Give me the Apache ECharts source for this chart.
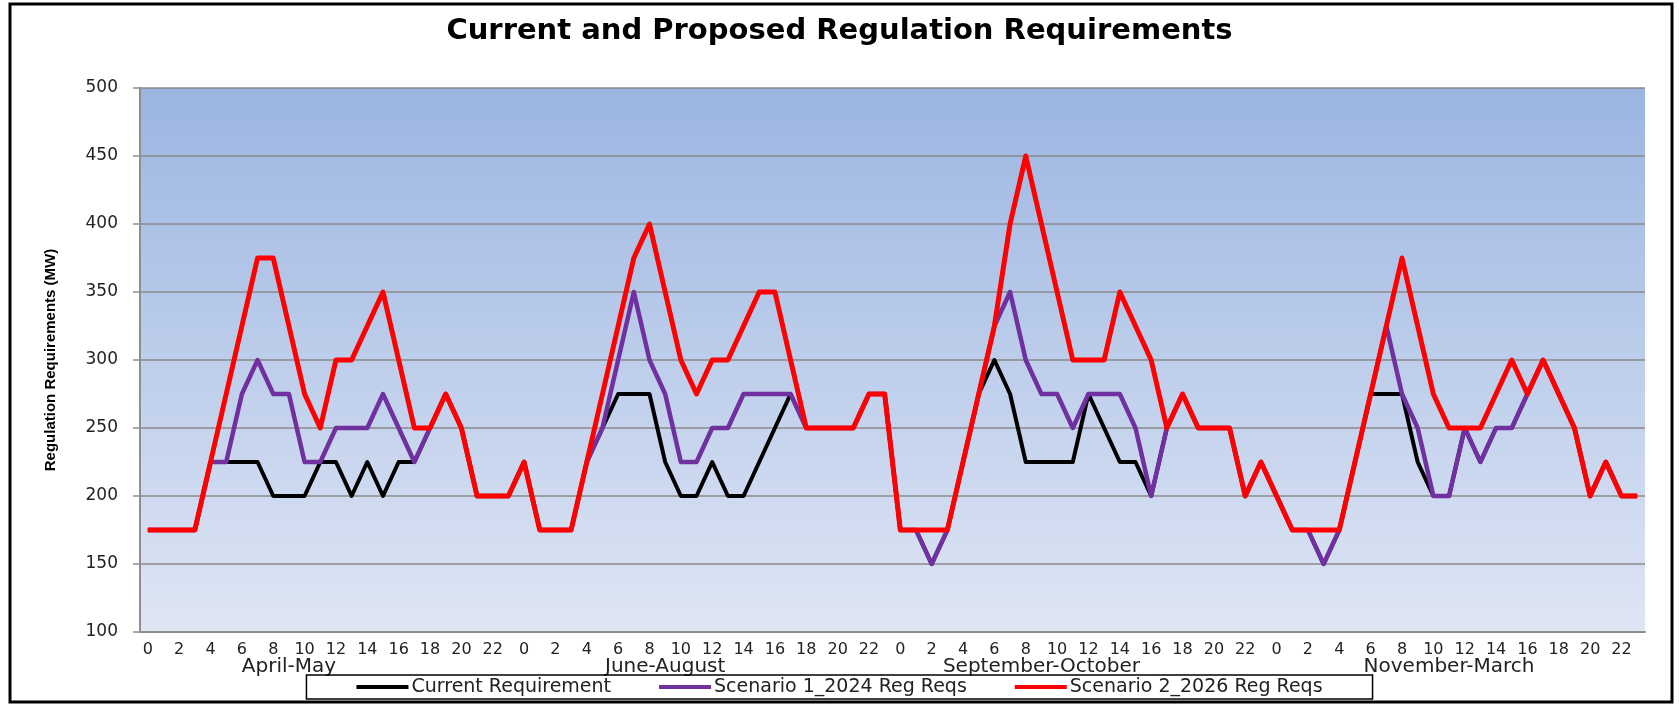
<!DOCTYPE html>
<html>
<head>
<meta charset="utf-8">
<title>Current and Proposed Regulation Requirements</title>
<script src="https://cdn.jsdelivr.net/npm/echarts@6/dist/echarts.min.js"></script>
<style>
  html, body { margin: 0; padding: 0; background: #fff; }
  #chart { width: 1679px; height: 707px; }
</style>
</head>
<body>
<div id="chart"></div>
<script>
// hour of day, repeated for each season block
var hours = [];
for (var s = 0; s < 4; s++) {
  for (var h = 0; h < 24; h++) hours.push(String(h));
}

var seasons = ['April-May', 'June-August', 'September-October', 'November-March'];
// category index under which each season name sits (as in the excel chart)
var seasonLabelIdx = [9, 33, 57, 83];

var yTicks = { min: 100, max: 500, step: 50 };

// MW, 24 values per season: Apr-May | Jun-Aug | Sep-Oct | Nov-Mar
var currentReq = [
  175, 175, 175, 175, 225, 225, 225, 225, 200, 200, 200, 225, 225, 200, 225, 200, 225, 225, 250, 275, 250, 200, 200, 200,
  225, 175, 175, 175, 225, 250, 275, 275, 275, 225, 200, 200, 225, 200, 200, 225, 250, 275, 250, 250, 250, 250, 275, 275,
  175, 175, 150, 175, 225, 275, 300, 275, 225, 225, 225, 225, 275, 250, 225, 225, 200, 250, 275, 250, 250, 250, 200, 225,
  200, 175, 175, 150, 175, 225, 275, 275, 275, 225, 200, 200, 250, 225, 250, 250, 275, 300, 275, 250, 200, 225, 200, 200
];
var scenario2024 = [
  175, 175, 175, 175, 225, 225, 275, 300, 275, 275, 225, 225, 250, 250, 250, 275, 250, 225, 250, 275, 250, 200, 200, 200,
  225, 175, 175, 175, 225, 250, 300, 350, 300, 275, 225, 225, 250, 250, 275, 275, 275, 275, 250, 250, 250, 250, 275, 275,
  175, 175, 150, 175, 225, 275, 325, 350, 300, 275, 275, 250, 275, 275, 275, 250, 200, 250, 275, 250, 250, 250, 200, 225,
  200, 175, 175, 150, 175, 225, 275, 325, 275, 250, 200, 200, 250, 225, 250, 250, 275, 300, 275, 250, 200, 225, 200, 200
];
var scenario2026 = [
  175, 175, 175, 175, 225, 275, 325, 375, 375, 325, 275, 250, 300, 300, 325, 350, 300, 250, 250, 275, 250, 200, 200, 200,
  225, 175, 175, 175, 225, 275, 325, 375, 400, 350, 300, 275, 300, 300, 325, 350, 350, 300, 250, 250, 250, 250, 275, 275,
  175, 175, 175, 175, 225, 275, 325, 400, 450, 400, 350, 300, 300, 300, 350, 325, 300, 250, 275, 250, 250, 250, 200, 225,
  200, 175, 175, 175, 175, 225, 275, 325, 375, 325, 275, 250, 250, 250, 275, 300, 275, 300, 275, 250, 200, 225, 200, 200
];

var font = 'DejaVu Sans';
var chart = echarts.init(document.getElementById('chart'));

chart.setOption({
  animation: false,
  backgroundColor: '#fff',
  title: {
    text: 'Current and Proposed Regulation Requirements',
    left: 'center',
    top: 17,
    padding: 0,
    textStyle: { fontFamily: font, fontSize: 29, fontWeight: 'bold', color: '#000' }
  },
  legend: {
    data: ['Current Requirement', 'Scenario 1_2024 Reg Reqs', 'Scenario 2_2026 Reg Reqs'],
    left: 'center',
    top: 675,
    padding: [2, 50],
    itemGap: 48,
    itemWidth: 52,
    itemHeight: 4,
    icon: 'rect',
    borderColor: '#000',
    borderWidth: 1.5,
    textStyle: { fontFamily: font, fontSize: 19, color: '#222', lineHeight: 20, padding: [0, 0, 0, -2] }
  },
  grid: {
    left: 140,
    right: 34,
    top: 88,
    bottom: 75,
    show: true,
    borderWidth: 0,
    backgroundColor: {
      type: 'linear', x: 0, y: 0, x2: 0, y2: 1,
      colorStops: [
        { offset: 0, color: '#9bb5e2' },
        { offset: 1, color: '#dfe6f4' }
      ]
    }
  },
  xAxis: [
    {
      type: 'category',
      data: hours,
      boundaryGap: true,
      axisLine: { lineStyle: { color: '#8e8e8e', width: 2 } },
      axisTick: { interval: 0, length: 6, lineStyle: { color: '#8e8e8e', width: 1.5 } },
      axisLabel: { interval: 1, margin: 10, fontFamily: font, fontSize: 16, color: '#222' },
      splitLine: { show: false }
    },
    {
      type: 'category',
      data: hours,
      position: 'bottom',
      boundaryGap: true,
      axisLine: { show: false },
      axisTick: { show: false },
      splitLine: { show: false },
      axisLabel: {
        interval: 0,
        margin: 25,
        fontFamily: font,
        fontSize: 20,
        color: '#222',
        formatter: function (val, idx) {
          var k = seasonLabelIdx.indexOf(idx);
          return k >= 0 ? seasons[k] : '';
        }
      }
    }
  ],
  yAxis: {
    type: 'value',
    min: yTicks.min,
    max: yTicks.max,
    interval: yTicks.step,
    name: 'Regulation Requirements (MW)',
    nameLocation: 'middle',
    nameGap: 82,
    nameTextStyle: { fontFamily: 'Liberation Sans', fontSize: 15, fontWeight: 'bold', color: '#000' },
    axisLine: { show: true, lineStyle: { color: '#8e8e8e', width: 2 } },
    axisTick: { show: true, length: 7, lineStyle: { color: '#8e8e8e', width: 1.5 } },
    axisLabel: { margin: 22, fontFamily: font, fontSize: 17, color: '#222' },
    splitLine: { lineStyle: { color: '#8a8a8a', width: 1.5 } }
  },
  series: [
    {
      name: 'Current Requirement',
      type: 'line',
      data: currentReq,
      color: '#000000',
      showSymbol: false,
      lineStyle: { width: 4, join: 'round' }
    },
    {
      name: 'Scenario 1_2024 Reg Reqs',
      type: 'line',
      data: scenario2024,
      color: '#7030a0',
      showSymbol: false,
      lineStyle: { width: 4.5, join: 'round' }
    },
    {
      name: 'Scenario 2_2026 Reg Reqs',
      type: 'line',
      data: scenario2026,
      color: '#ff0000',
      showSymbol: false,
      lineStyle: { width: 5, join: 'round' }
    }
  ],
  graphic: [
    {
      type: 'rect',
      silent: true,
      shape: { x: 10, y: 4, width: 1662, height: 698 },
      style: { fill: 'none', stroke: '#000', lineWidth: 3 }
    }
  ]
});
</script>
</body>
</html>
